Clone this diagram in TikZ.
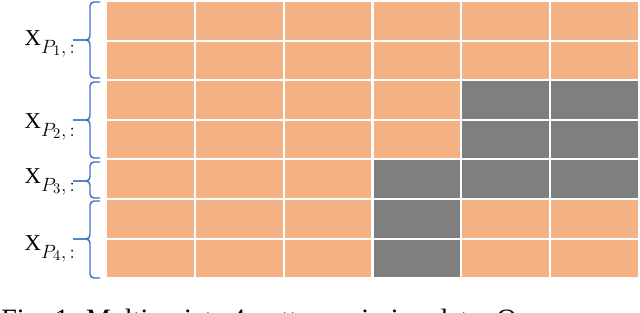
\documentclass[tikz,border=0pt]{standalone}
\usepackage{fontspec}
\setmainfont{Liberation Serif}
\usepackage{xcolor}
\usetikzlibrary{positioning,calc}
\definecolor{observed}{RGB}{244,177,131}
\definecolor{missing}{RGB}{127,127,127}
\definecolor{bracecol}{RGB}{68,114,196}
\DeclareMathSizes{17}{17}{15}{11}

\begin{document}
\begin{tikzpicture}[
    x=0.75pt, y=-0.75pt,
    cell/.style={rectangle, draw=white, line width=1.5pt, fill=observed, minimum width=66.6pt, minimum height=29.7pt, inner sep=0pt},
    gap/.style={cell, fill=missing},
    brace/.style={draw=bracecol, line width=1.1pt, rounded corners=3pt},
    lab/.style={font=\fontsize{17}{20}\selectfont, inner sep=0pt, anchor=base east},
]

\useasboundingbox (0,0) rectangle (640,312);

% Data grid
\foreach \r in {1,...,7}
  \foreach \c in {1,...,6}
    \node[cell] (c\r\c) at ({106+88.83*(\c-0.5)},{1+39.6*(\r-0.5)}) {};

% Missing entries
\foreach \r/\c in {3/5,3/6,4/5,4/6,5/4,5/5,5/6,6/4,7/4}
  \node[gap] (g\r\c) at (c\r\c) {};

% Pattern braces
\foreach \t/\m/\b in {2/40/78, 82/120/158, 162/181/198, 201/239/278} {
  \draw[brace] (100,\t) -- (90,\t) -- (90,\m) -- (73,\m);
  \draw[brace] (73,\m) -- (90,\m) -- (90,\b) -- (100,\b);
}

% Pattern labels
\newcommand{\patlab}[1]{X\raisebox{-6pt}{$\scriptstyle P_{#1},\,:$}}
\node[lab] (lp1) at (75,45) {\patlab{1}};
\node[lab] (lp2) at (75,128) {\patlab{2}};
\node[lab] (lp3) at (75,183) {\patlab{3}};
\node[lab] (lp4) at (75,250) {\patlab{4}};

% Caption (cut off at the bottom)
\begin{scope}
  \clip (0,0) rectangle (640,312);
  \node[anchor=base west, inner sep=0pt, font=\fontsize{21}{25}\selectfont] (caption) at (1,328) {Fig. 1: Multivariate 4-pattern missing data. O};
\end{scope}

\end{tikzpicture}
\end{document}
